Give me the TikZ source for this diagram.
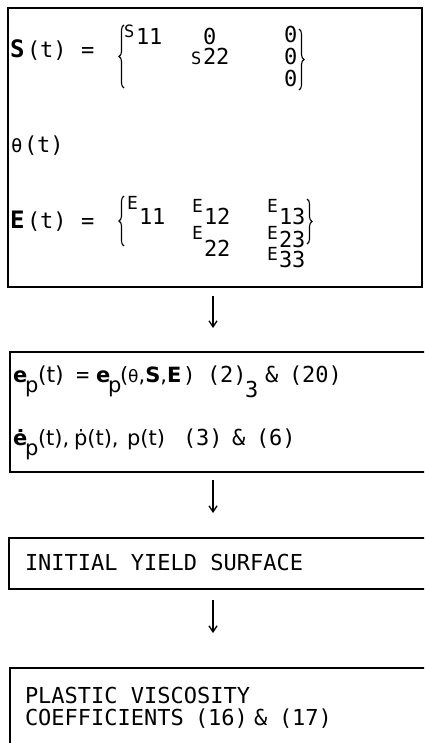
\documentclass[tikz,border=0pt]{standalone}
\usepackage{fontspec}
\setmainfont{DejaVu Sans Mono}
\newfontfamily\sansf{DejaVu Sans}
\usetikzlibrary{arrows.meta,decorations.pathreplacing}
\tikzset{
  box/.style={draw, line width=1.5pt, anchor=north west, inner sep=0pt, outer sep=0pt},
  tx/.style={anchor=base west, inner sep=0pt, outer sep=0pt, font=\fontsize{22}{24}\selectfont},
  bx/.style={anchor=base west, inner sep=0pt, outer sep=0pt, font=\fontsize{24}{26}\selectfont\bfseries},
  sm/.style={anchor=base west, inner sep=0pt, outer sep=0pt, font=\fontsize{17}{19}\selectfont},
  me/.style={anchor=base west, inner sep=0pt, outer sep=0pt, font=\fontsize{18}{20}\selectfont},
  mx/.style={anchor=base west, inner sep=0pt, outer sep=0pt, font=\fontsize{21}{24}\sansf},
  arr/.style={line width=1.3pt, -{Straight Barb[length=6pt,width=8pt]}},
  br/.style={decorate, decoration={brace, amplitude=5pt}, line width=1.1pt},
}
\begin{document}
\begin{tikzpicture}[x=1pt,y=-1pt]
\useasboundingbox (0,0) rectangle (424,743);
\clip (0,0) rectangle (424,743);
% boxes
\node[box, minimum width=414pt, minimum height=279pt] (b1) at (8,8) {};
\node[box, minimum width=430pt, minimum height=120pt] (b2) at (10,352) {};
\node[box, minimum width=430pt, minimum height=51pt] (b3) at (9,538) {};
\node[box, minimum width=430pt, minimum height=100pt] (b4) at (10,668) {};
% arrows
\coordinate (a1s) at (213,296); \coordinate (a1e) at (213,328);
\coordinate (a2s) at (213,480); \coordinate (a2e) at (213,513);
\coordinate (a3s) at (213,600); \coordinate (a3e) at (213,633);
\draw[arr] (a1s) -- (a1e);
\draw[arr] (a2s) -- (a2e);
\draw[arr] (a3s) -- (a3e);
% box 1: S(t)
\node[bx] (s1) at (10,58) {S};
\node[tx] (s2) at (27,58) {(t)};
\node[tx] (s3) at (81,58) {=};
\coordinate (sbl1) at (124,88); \coordinate (sbl2) at (124,25);
\draw[br] (sbl1) -- (sbl2);
\node[sm] (s4) at (124,38) {S};
\node[tx] (s5) at (136,45) {11};
\node[tx] (s6) at (203,45) {0};
\node[sm] (s7) at (191,65) {S};
\node[tx] (s8) at (203,65) {22};
\node[tx] (s9) at (284,43) {0};
\node[tx] (s10) at (284,65) {0};
\node[tx] (s11) at (284,87) {0};
\coordinate (sbr1) at (299,29); \coordinate (sbr2) at (299,90);
\draw[br] (sbr1) -- (sbr2);
% theta
\node[tx, font=\fontsize{19}{21}\selectfont] (th1) at (11,153) {θ};
\node[tx] (th2) at (24,153) {(t)};
% E(t)
\node[bx] (e1) at (10,229) {E};
\node[tx] (e2) at (27,229) {(t)};
\node[tx] (e3) at (81,229) {=};
\coordinate (ebl1) at (124,246); \coordinate (ebl2) at (124,196);
\draw[br] (ebl1) -- (ebl2);
\node[me] (e4) at (127,210) {E};
\node[tx] (e5) at (139,224) {11};
\node[me] (e6) at (192,212) {E};
\node[tx] (e7) at (204,224) {12};
\node[me] (e8) at (192,239) {E};
\node[tx] (e9) at (204,256) {22};
\node[me] (e10) at (267,212) {E};
\node[tx] (e11) at (279,225) {13};
\node[me] (e12) at (267,240) {E};
\node[tx] (e13) at (279,247) {23};
\node[me] (e14) at (267,260) {E};
\node[tx] (e15) at (279,267) {33};
\coordinate (ebr1) at (307,199); \coordinate (ebr2) at (307,244);
\draw[br] (ebr1) -- (ebr2);
% box 2
\node[mx] (p1) at (13,382) {\textbf{e}};
\node[mx] (p2) at (25,392) {p};
\node[mx, font=\fontsize{22}{24}\sansf] (p3) at (38,382) {(t)};
\node[tx] (p4) at (76,382) {=};
\node[mx] (p5) at (96,382) {\textbf{e}};
\node[mx] (p6) at (108,392) {p};
\node[mx] (p7) at (120,382) {({\fontsize{17}{19}\selectfont θ},\textbf{S},\textbf{E}\,)};
\node[tx] (p8) at (207,382) {(2)};
\node[tx] (p9) at (245,397) {3};
\node[tx] (p10) at (265,382) {\&};
\node[tx] (p11) at (289,382) {(20)};
\node[mx] (q1) at (13,445) {\textbf{\.{e}}};
\node[mx] (q2) at (25,455) {p};
\node[mx] (q3) at (38,445) {(t),};
\node[mx] (q4) at (74,445) {\.{p}(t),};
\node[mx] (q5) at (127,445) {p(t)};
\node[tx] (q6) at (183,445) {(3)};
\node[tx] (q7) at (232,445) {\&};
\node[tx] (q8) at (256,445) {(6)};
% box 3
\node[tx] (y1) at (25,570) {INITIAL YIELD SURFACE};
% box 4
\node[tx] (v1) at (25,703) {PLASTIC VISCOSITY};
\node[tx] (v2) at (25,725) {COEFFICIENTS};
\node[tx] (v3) at (195,725) {(16)};
\node[tx] (v4) at (254,725) {\&};
\node[tx] (v5) at (279,725) {(17)};
\end{tikzpicture}
\end{document}
